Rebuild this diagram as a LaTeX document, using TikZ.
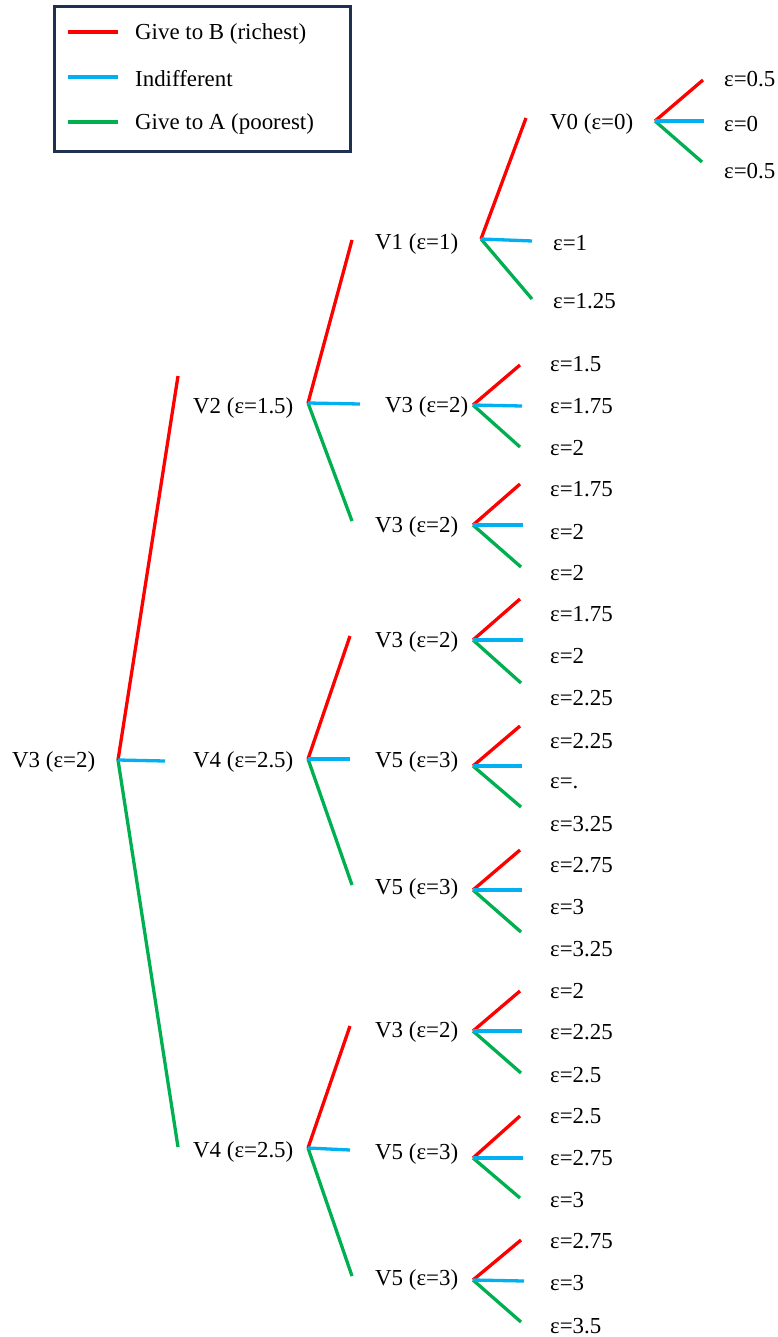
\documentclass[tikz,border=0pt]{standalone}
\usepackage{fontspec}
\setmainfont{Liberation Serif}
\usepackage{xcolor}
\usepackage{tikz}
\usetikzlibrary{positioning}
\definecolor{giveB}{HTML}{FF0000}
\definecolor{indiff}{HTML}{00B0F0}
\definecolor{giveA}{HTML}{00B050}
\definecolor{framenavy}{HTML}{1F3050}
\tikzset{every node/.append style={font=\fontsize{22.9}{27}\selectfont,inner sep=0pt}}

% one split: junction, then ends of the B / indifferent / A branches
\newcommand{\forkat}[5]{%
  \coordinate (#1) at (#2);
  \coordinate (#1-b) at (#3);
  \coordinate (#1-i) at (#4);
  \coordinate (#1-a) at (#5);
  \draw[toB] (#1) -- (#1-b);
  \draw[toA] (#1) -- (#1-a);
  \draw[toI] (#1) -- (#1-i);}

\begin{document}
\begin{tikzpicture}[x=1pt,y=-1pt,
  toB/.style={giveB,line width=3.3pt},
  toI/.style={indiff,line width=3.3pt},
  toA/.style={giveA,line width=3.3pt},
  val/.style={anchor=west,yshift=-1.5pt}]
  \useasboundingbox (0,0) rectangle (777,1337);

  % legend
  \node[draw=framenavy,line width=3pt,minimum width=296pt,minimum height=145pt,
        anchor=north west] (legend) at (53,5) {};
  \foreach \ypos/\sty/\lbl [count=\k] in {32/toB/Give to B (richest),
      77/toI/Indifferent,122/toA/Give to A (poorest)} {
    \coordinate (ls\k) at (68,\ypos);
    \coordinate (le\k) at (118,\ypos);
    \draw[\sty] (ls\k) -- (le\k);
    \node[val] (lt\k) at (135,\ypos) {\lbl};
  }

  % states
  \node[val] (root) at (12,760) {V3 (ε=2)};
  \node[val] (v2) at (193,406) {V2 (ε=1.5)};
  \node[val] (v4m) at (193,760) {V4 (ε=2.5)};
  \node[val] (v4b) at (193,1150) {V4 (ε=2.5)};
  \node[val] (v1) at (375,242) {V1 (ε=1)};
  \node[val] (v0) at (550,122) {V0 (ε=0)};
  \node[val] (v3a) at (385,405) {V3 (ε=2)};
  \node[val] (v3b) at (375,525) {V3 (ε=2)};
  \node[val] (v3c) at (375,640) {V3 (ε=2)};
  \node[val] (v5a) at (375,760) {V5 (ε=3)};
  \node[val] (v5b) at (375,887) {V5 (ε=3)};
  \node[val] (v3d) at (375,1030) {V3 (ε=2)};
  \node[val] (v5c) at (375,1152) {V5 (ε=3)};
  \node[val] (v5d) at (375,1278) {V5 (ε=3)};

  % branches
  \forkat{jroot}{118,760}{178,376}{165,761}{178,1147}
  \forkat{jv2}{308,403}{352,240}{360,404}{352,521}
  \forkat{jv4m}{308,759}{350,636}{350,759}{352,885}
  \forkat{jv4b}{308,1148}{350,1026}{350,1150}{352,1276}
  \forkat{jv1}{481,239}{526,118}{532,241}{532,299}
  \forkat{jv0}{655,121}{703,80}{704,121}{702,162}
  \forkat{jv3a}{473,405}{520,365}{522,406}{520,447}
  \forkat{jv3b}{473,525}{520,484}{523,525}{521,567}
  \forkat{jv3c}{473,640}{520,599}{523,640}{521,683}
  \forkat{jv5a}{473,766}{520,726}{522,766}{521,807}
  \forkat{jv5b}{473,890}{520,850}{522,890}{521,932}
  \forkat{jv3d}{473,1031}{520,991}{522,1031}{521,1073}
  \forkat{jv5c}{473,1158}{520,1116}{523,1158}{520,1198}
  \forkat{jv5d}{473,1280}{521,1240}{524,1281}{521,1322}

  % leaf values
  \node[val] (e1a) at (553,242) {ε=1};
  \node[val] (e1b) at (553,300) {ε=1.25};
  \node[val] (e0a) at (724,78) {ε=0.5};
  \node[val] (e0b) at (724,123) {ε=0};
  \node[val] (e0c) at (724,170) {ε=0.5};
  \foreach \ypos/\lbl [count=\k] in {363/1.5,405/1.75,447/2,488/1.75,531/2,572/2,
      613/1.75,655/2,697/2.25,740/2.25,782/.,823/3.25,864/2.75,906/3,948/3.25,
      990/2,1031/2.25,1074/2.5,1115/2.5,1157/2.75,1199/3,1240/2.75,1282/3,1325/3.5}
    \node[val] (leaf\k) at (550,\ypos) {ε=\lbl};
\end{tikzpicture}
\end{document}
